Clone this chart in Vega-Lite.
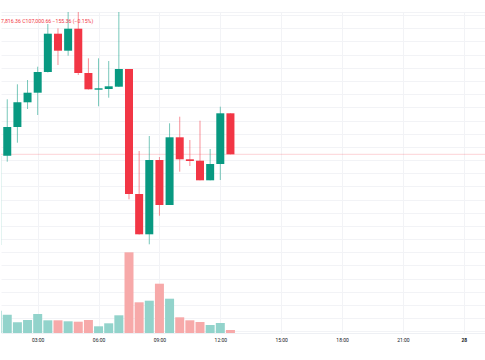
{
  "$schema": "https://vega.github.io/schema/vega-lite/v6.json",
  "width": 485,
  "height": 321,
  "padding": {"top": 12, "left": 0, "right": 0, "bottom": 0},
  "background": "white",
  "config": {"view": {"stroke": null}},
  "title": {
    "text": "7,816.36  C107,000.66  −155.36 (−0.15%)",
    "anchor": "start",
    "frame": "group",
    "fontSize": 5.2,
    "font": "Roboto",
    "fontWeight": "normal",
    "color": "#f23645",
    "baseline": "middle",
    "offset": -14
  },
  "data": {
    "values": [
      {"t": "2025-06-27T01:00:00Z", "o": 105187, "h": 107021, "l": 105127, "c": 106973, "v": 223},
      {"t": "2025-06-27T01:30:00Z", "o": 106973, "h": 108101, "l": 106853, "c": 107547, "v": 183},
      {"t": "2025-06-27T02:00:00Z", "o": 107547, "h": 108401, "l": 107233, "c": 108041, "v": 107},
      {"t": "2025-06-27T02:30:00Z", "o": 108041, "h": 108487, "l": 107907, "c": 108233, "v": 130},
      {"t": "2025-06-27T03:00:00Z", "o": 108233, "h": 108753, "l": 107787, "c": 108647, "v": 190},
      {"t": "2025-06-27T03:30:00Z", "o": 108647, "h": 109607, "l": 108637, "c": 109413, "v": 127},
      {"t": "2025-06-27T04:00:00Z", "o": 109413, "h": 109521, "l": 108787, "c": 109073, "v": 127},
      {"t": "2025-06-27T04:30:00Z", "o": 109073, "h": 110150, "l": 108973, "c": 109513, "v": 117},
      {"t": "2025-06-27T05:00:00Z", "o": 109513, "h": 110150, "l": 108587, "c": 108627, "v": 113},
      {"t": "2025-06-27T05:30:00Z", "o": 108627, "h": 108921, "l": 108297, "c": 108301, "v": 130},
      {"t": "2025-06-27T06:00:00Z", "o": 108293, "h": 108921, "l": 107961, "c": 108321, "v": 67},
      {"t": "2025-06-27T06:30:00Z", "o": 108307, "h": 108867, "l": 108133, "c": 108361, "v": 97},
      {"t": "2025-06-27T07:00:00Z", "o": 108353, "h": 110150, "l": 108347, "c": 108707, "v": 177},
      {"t": "2025-06-27T07:30:00Z", "o": 108707, "h": 108707, "l": 106101, "c": 106207, "v": 807},
      {"t": "2025-06-27T08:00:00Z", "o": 106207, "h": 107067, "l": 105397, "c": 105401, "v": 307},
      {"t": "2025-06-27T08:30:00Z", "o": 105401, "h": 107367, "l": 105201, "c": 106887, "v": 323},
      {"t": "2025-06-27T09:00:00Z", "o": 106887, "h": 106947, "l": 105773, "c": 105987, "v": 493},
      {"t": "2025-06-27T09:30:00Z", "o": 105987, "h": 107621, "l": 105987, "c": 107341, "v": 343},
      {"t": "2025-06-27T10:00:00Z", "o": 107341, "h": 107753, "l": 106653, "c": 106901, "v": 157},
      {"t": "2025-06-27T10:30:00Z", "o": 106901, "h": 107287, "l": 106767, "c": 106867, "v": 127},
      {"t": "2025-06-27T11:00:00Z", "o": 106873, "h": 107673, "l": 106481, "c": 106481, "v": 110},
      {"t": "2025-06-27T11:30:00Z", "o": 106481, "h": 107107, "l": 106481, "c": 106807, "v": 80},
      {"t": "2025-06-27T12:00:00Z", "o": 106807, "h": 107953, "l": 106487, "c": 107821, "v": 100},
      {"t": "2025-06-27T12:30:00Z", "o": 107821, "h": 107821, "l": 107000.66, "c": 107000.66, "v": 30}
    ]
  },
  "layer": [
    {
      "mark": {"type": "bar", "size": 9, "clip": true},
      "encoding": {
        "x": {
          "field": "t",
          "type": "temporal",
          "scale": {
            "type": "utc",
            "padding": 0,
            "domain": [
              {"year": 2025, "month": 6, "date": 27, "hours": 1, "minutes": 11, "seconds": 30, "utc": true},
              {"year": 2025, "month": 6, "date": 28, "hours": 1, "minutes": 5, "seconds": 42, "utc": true}
            ]
          },
          "axis": {
            "title": null,
            "values": [
              {"year": 2025, "month": 6, "date": 27, "hours": 3, "utc": true},
              {"year": 2025, "month": 6, "date": 27, "hours": 6, "utc": true},
              {"year": 2025, "month": 6, "date": 27, "hours": 9, "utc": true},
              {"year": 2025, "month": 6, "date": 27, "hours": 12, "utc": true},
              {"year": 2025, "month": 6, "date": 27, "hours": 15, "utc": true},
              {"year": 2025, "month": 6, "date": 27, "hours": 18, "utc": true},
              {"year": 2025, "month": 6, "date": 27, "hours": 21, "utc": true},
              {"year": 2025, "month": 6, "date": 28, "hours": 0, "utc": true}
            ],
            "labelExpr": "utcFormat(datum.value, '%H') == '00' ? utcFormat(datum.value, '%d') : utcFormat(datum.value, '%H:%M')",
            "labelFontWeight": {"condition": {"test": "utchours(datum.value) == 0", "value": "bold"}, "value": "normal"},
            "labelFont": "Roboto",
            "labelFontSize": 5,
            "labelColor": "#131722",
            "labelPadding": 4,
            "labelFlush": false,
            "ticks": false,
            "domain": true,
            "domainColor": "#eef0f4",
            "grid": true,
            "gridColor": "#f2f3f6",
            "gridWidth": 1
          }
        },
        "y": {"field": "v", "type": "quantitative", "scale": {"domain": [0, 3210], "nice": false, "zero": true}, "axis": null},
        "color": {"condition": {"test": "datum.c >= datum.o", "value": "#92d3cb"}, "value": "#f7a9a9"}
      }
    },
    {
      "layer": [
        {
          "data": {"values": [{"last": 107000.66}]},
          "mark": {"type": "rule", "color": "#f23645", "opacity": 0.22, "strokeWidth": 1},
          "encoding": {"y": {"field": "last", "type": "quantitative"}}
        },
        {
          "mark": {"type": "rule", "strokeWidth": 1, "opacity": 0.55, "clip": true},
          "encoding": {
            "x": {"field": "t", "type": "temporal"},
            "y": {"field": "l", "type": "quantitative"},
            "y2": {"field": "h"},
            "color": {"condition": {"test": "datum.c >= datum.o", "value": "#089981"}, "value": "#f23645"}
          }
        },
        {
          "mark": {"type": "bar", "size": 8, "clip": true},
          "encoding": {
            "x": {"field": "t", "type": "temporal"},
            "y": {"field": "o", "type": "quantitative"},
            "y2": {"field": "c"},
            "color": {"condition": {"test": "datum.c >= datum.o", "value": "#089981"}, "value": "#f23645"}
          }
        }
      ],
      "encoding": {
        "y": {
          "type": "quantitative",
          "scale": {"domain": [103427, 109847], "nice": false, "zero": false},
          "axis": {
            "title": null,
            "orient": "right",
            "labels": false,
            "ticks": false,
            "domain": false,
            "grid": true,
            "gridColor": "#f2f3f6",
            "values": [109847, 109785, 109521, 109257, 108995, 108731, 108467, 108203, 107941, 107677, 107413, 107149, 106887, 106623, 106359, 106095, 105833, 105569, 105305, 105041, 104779, 104515, 104251, 103989, 103725, 103461]
          }
        }
      }
    }
  ],
  "resolve": {"scale": {"y": "independent"}}
}
